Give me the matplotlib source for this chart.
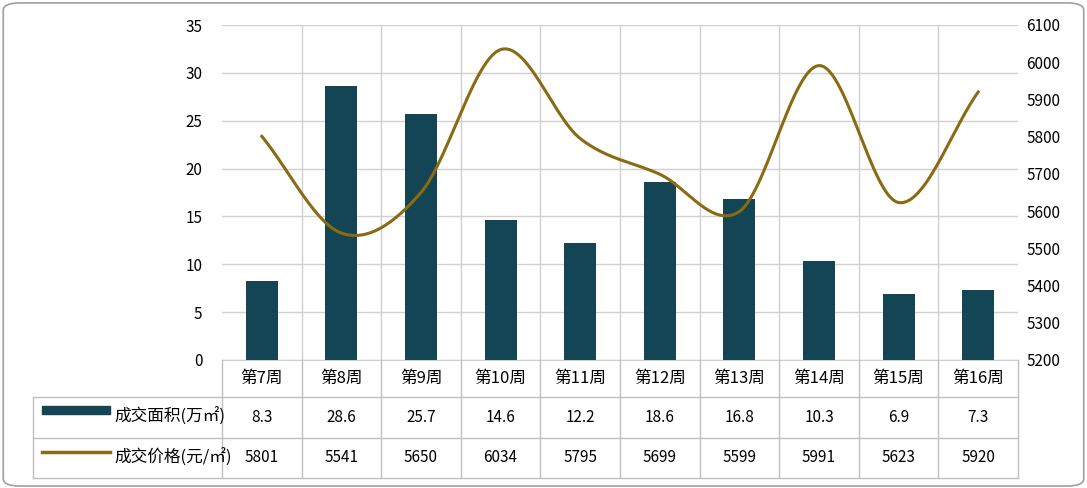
import numpy as np
import matplotlib.pyplot as plt
from matplotlib.patches import FancyBboxPatch, Rectangle
from matplotlib.lines import Line2D

plt.rcParams['font.family'] = ['Noto Sans CJK SC', 'DejaVu Sans']

weeks = ['第7周', '第8周', '第9周', '第10周', '第11周', '第12周', '第13周', '第14周', '第15周', '第16周']
area = [8.3, 28.6, 25.7, 14.6, 12.2, 18.6, 16.8, 10.3, 6.9, 7.3]
price = [5801, 5541, 5650, 6034, 5795, 5699, 5599, 5991, 5623, 5920]
area_label = '成交面积(万㎡)'
price_label = '成交价格(元/㎡)'

bar_color = '#144555'
line_color = '#8a6a12'
grid_color = '#d0d0d0'

W, H = 1087, 488
fig = plt.figure(figsize=(W / 100, H / 100), dpi=100)


def fx(px):
    return px / W


def fy(py):
    return 1 - py / H


left, right, top, bottom = 222, 1018, 25, 360
ax = fig.add_axes([fx(left), fy(bottom), fx(right - left), fy(top) - fy(bottom)])
n = len(weeks)
xs = np.arange(n) + 0.5
ax.bar(xs, area, width=0.4, color=bar_color, zorder=3)
ax.set_xlim(0, n)
ax.set_ylim(0, 35)
ax.set_yticks(range(0, 36, 5))
ax.set_xticks([])
ax.grid(axis='y', color=grid_color, lw=1, zorder=0)
for b in range(1, n):
    ax.axvline(b, color=grid_color, lw=1, zorder=0)
for s in ['top', 'right', 'left']:
    ax.spines[s].set_visible(False)
ax.spines['bottom'].set_color(grid_color)
ax.tick_params(axis='y', length=0, labelsize=11, pad=14)

ax2 = ax.twinx()
# smooth curve through the data points (Catmull-Rom)
p = np.array(price, dtype=float)
pp = np.concatenate([[2 * p[0] - p[1]], p, [2 * p[-1] - p[-2]]])
cx, cy = [], []
for i in range(n - 1):
    p0, p1, p2, p3 = pp[i], pp[i + 1], pp[i + 2], pp[i + 3]
    t = np.linspace(0, 1, 30)
    y = 0.5 * (2 * p1 + (-p0 + p2) * t + (2 * p0 - 5 * p1 + 4 * p2 - p3) * t ** 2
               + (-p0 + 3 * p1 - 3 * p2 + p3) * t ** 3)
    cx.extend(xs[i] + t)
    cy.extend(y)
ax2.plot(cx, cy, color=line_color, lw=2.2, zorder=4)
ax2.set_ylim(5200, 6100)
ax2.set_yticks(range(5200, 6101, 100))
for s in ax2.spines.values():
    s.set_visible(False)
ax2.tick_params(axis='y', length=0, labelsize=11, pad=6)

# table under the chart
rows = [360, 397, 438, 478]
tl = 33
lc = dict(color='#bfbfbf', lw=1, transform=fig.transFigure)
for r in rows[1:]:
    fig.add_artist(Line2D([fx(tl), fx(right)], [fy(r), fy(r)], **lc))
fig.add_artist(Line2D([fx(tl), fx(tl)], [fy(rows[1]), fy(rows[3])], **lc))
colw = (right - left) / n
for i in range(n + 1):
    xp = left + i * colw
    fig.add_artist(Line2D([fx(xp), fx(xp)], [fy(rows[0]), fy(rows[3])], **lc))
for i in range(n):
    xc = fx(left + (i + 0.5) * colw)
    fig.text(xc, fy((rows[0] + rows[1]) / 2), weeks[i], ha='center', va='center', fontsize=12)
    fig.text(xc, fy((rows[1] + rows[2]) / 2), f'{area[i]}', ha='center', va='center', fontsize=11)
    fig.text(xc, fy((rows[2] + rows[3]) / 2), f'{price[i]}', ha='center', va='center', fontsize=11)
fig.add_artist(Rectangle((fx(42), fy(414)), fx(68), fy(406) - fy(414), color=bar_color,
                         transform=fig.transFigure))
fig.add_artist(Line2D([fx(42), fx(110)], [fy(452), fy(452)], color=line_color, lw=2.5,
                      transform=fig.transFigure))
fig.text(fx(114), fy(417), area_label, ha='left', va='center', fontsize=12)
fig.text(fx(114), fy(458), price_label, ha='left', va='center', fontsize=12)

fig.add_artist(FancyBboxPatch((0.003, 0.004), 0.994, 0.99, boxstyle='round,pad=0,rounding_size=0.015',
                              fill=False, ec='#a0a0a0', lw=1.2, transform=fig.transFigure))

fig.savefig('out.png', dpi=100)
